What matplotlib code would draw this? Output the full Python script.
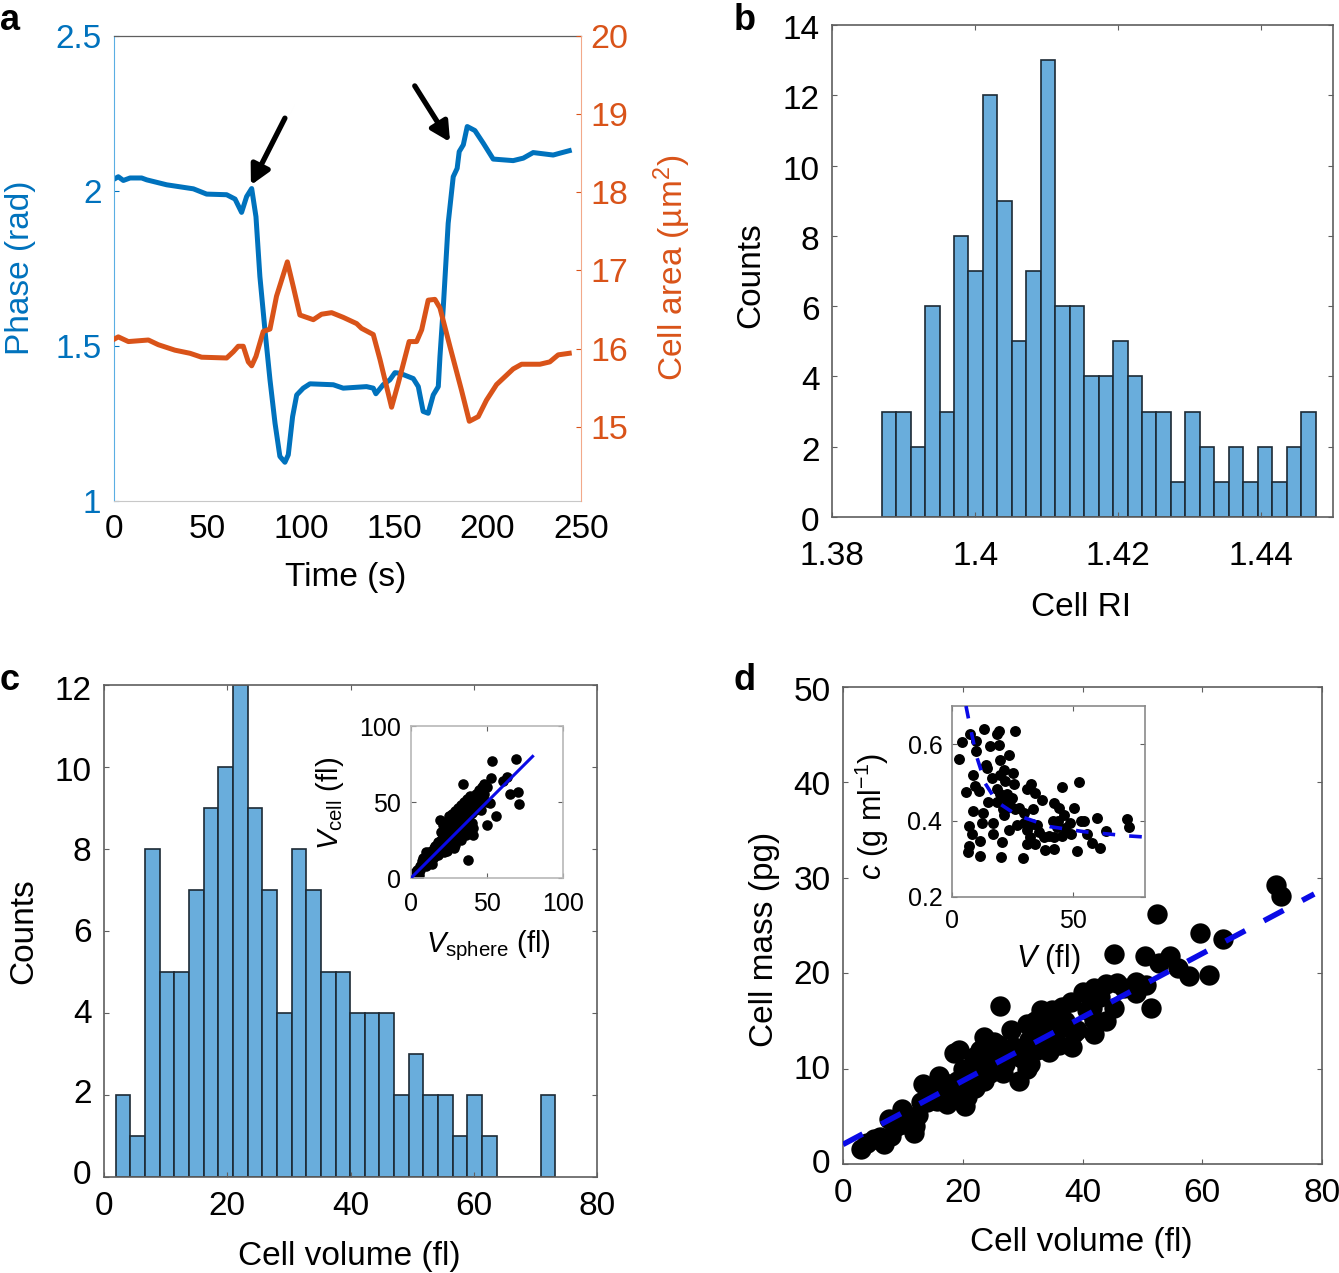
import matplotlib
matplotlib.use("Agg")
import matplotlib.pyplot as plt
from matplotlib.transforms import ScaledTranslation
import numpy as np

plt.rcParams['font.family'] = ['Liberation Sans', 'DejaVu Sans']
plt.rcParams['mathtext.fontset'] = 'custom'
plt.rcParams['mathtext.rm'] = 'Liberation Sans'
plt.rcParams['mathtext.it'] = 'Liberation Sans:italic'
plt.rcParams['mathtext.bf'] = 'Liberation Sans:bold'

W, H = 1339, 1273
fig = plt.figure(figsize=(W/100, H/100), dpi=100)

# ---------- data ----------
phase_t = [0,2.3,5,8.6,14.8,17.5,28.2,42.5,49.6,60.3,64.8,68.3,71,73.7,76,78.1,80.8,83.5,86.2,88.8,91.5,93.3,95.6,97.8,101.3,104.9,117.4,122.7,135.2,138.8,140.2,144.1,147.7,150.4,153.1,160.2,162.9,165.5,168.2,170.9,173.6,174.5,176.3,178.9,181.6,183.7,184.8,187,189.1,193.2,197.7,203,213.7,219.1,224.4,235.1,238.7,243.7]
phase_v = [2.038,2.046,2.034,2.042,2.042,2.036,2.02,2.007,1.99,1.988,1.974,1.931,1.982,2.008,1.917,1.724,1.552,1.391,1.251,1.144,1.125,1.149,1.272,1.342,1.364,1.378,1.375,1.364,1.369,1.364,1.346,1.375,1.391,1.414,1.412,1.395,1.369,1.289,1.283,1.342,1.369,1.466,1.627,1.896,2.046,2.073,2.127,2.149,2.208,2.195,2.154,2.103,2.098,2.106,2.124,2.116,2.122,2.130]
area_t = [0,2.3,7.7,18.4,23.7,32.6,40.7,46.9,60.3,63.9,66.5,69.2,71.9,73.7,76,79.9,83.5,87,92.8,96,99.5,106.7,111.1,116.5,122.7,129.9,132.5,138.8,142.4,148.6,152.2,158,162,164.7,168.2,171.8,174.5,179.8,186,190.2,195,199.4,204.8,213.7,218.2,228,233.3,237.8,243.7]
area_v = [16.12,16.15,16.09,16.11,16.05,15.98,15.94,15.89,15.88,15.96,16.03,16.03,15.83,15.78,15.9,16.22,16.25,16.67,17.11,16.79,16.43,16.37,16.44,16.46,16.4,16.32,16.26,16.18,15.86,15.25,15.56,16.09,16.09,16.24,16.62,16.63,16.52,16.03,15.47,15.07,15.13,15.34,15.54,15.74,15.8,15.8,15.83,15.92,15.94]

ri_left = 1.38694
ri_width = 0.002021
ri_counts = [3,3,2,6,3,8,7,12,9,5,7,13,6,6,4,4,5,4,3,3,1,3,2,1,2,1,2,1,2,3]

vol_left = 1.9
vol_width = 2.378
vol_counts = [2,1,8,5,5,7,9,10,12,9,7,4,8,7,5,5,4,4,4,2,3,2,2,1,2,1,0,0,0,2]

mass_x = [3.0,4,6.9,8.1,7.6,9.8,11.5,12.6,11.8,10.1,13.3,16,14.6,17.4,20.4,20.7,15.7,18.5,19,18.5,19.3,21.8,23.5,25.2,23.5,23.5,25.7,26.3,26.8,29.4,28.5,31.3,34.4,30.7,33,34.9,38,36.6,33.5,35.8,38.3,38.6,42,41.6,45.3,41.9,43.9,45.8,48.9,48.9,50.6,51.4,45.3,52.5,50.4,52.8,54.6,55.9,57.8,61.2,59.7,63.5,72.3,73.1,20.7,22.4,24.6,27.4,29.6,32.4,34.1,31.9,17.4,16.2,22.9,24.6,6.2,5.1,41.9,40.8,30.7,35.8,
          19,21,23,25,27,29,31,33,35,37,39,15,17,14,20,22,28,30,32,34,40,43,44,47,24,26,36,9,10,12,13]
mass_y = [1.55,2.25,2.07,2.95,4.7,5.8,4.9,5.1,3.3,4.2,8.4,9.2,7.7,6.3,6.05,7,6.65,7.7,8.75,11.6,11.9,11.2,13.3,12.8,8.75,10.2,10,16.6,9.5,8.75,12.3,10.5,11.75,14.7,16.1,16.1,17,16.5,13.7,14,12.3,13.7,13.6,16.3,16.3,18.4,18.9,19,19.1,17.9,18.8,16.4,22,26.2,21.8,21.1,21.8,20.5,19.7,19.8,24.2,23.6,29.2,28.1,8.75,10.2,10.9,11.6,11.2,11.9,13.3,14.4,7.3,7.7,11.9,9.5,2.8,2.6,15.1,16.1,10,14.7,
          8,9,11,11,10.5,12,13,12.5,13,15,14,8,8.5,6.5,10,8,14,11,15,15.5,18,17.5,15,18.5,12,12.5,12.5,4,5,4,6.5]
fit_x = [0, 78.7]
fit_y = [2.05, 28.3]

conc_x = [2.9,4,7.5,10,10,13.1,18.6,19.3,26.3,15.8,19.6,23.8,20,14.2,14.7,21.7,25.1,8.6,16.5,22.1,25.6,32.9,31.1,45.4,52.6,5.8,9.6,11,18.6,34.6,37.4,42.2,24.9,15.1,18.6,22.8,27.6,33.6,50.6,44.3,8.6,12.8,46.4,21.4,59.9,72.4,73.5,54.7,53.3,48.9,12.4,17,7.2,27,29.7,23.5,35.3,31.1,43.6,17.2,8.2,49.2,56.1,63.8,45.7,38,42.2,32.5,11.4,20.7,31.1,34.6,58.2,7.2,6.8,11.7,20.4,29.4,38.5,42.2,51.7,61.3,
          20,22,24,26,30,33,36,40,42,44,47,21,20,23]
conc_y = [.560,.605,.626,.609,.583,.639,.627,.634,.634,.594,.598,.573,.559,.545,.537,.532,.524,.519,.512,.504,.495,.495,.482,.487,.500,.476,.491,.477,.484,.471,.454,.445,.458,.449,.449,.432,.432,.430,.432,.432,.426,.419,.414,.414,.406,.403,.384,.399,.399,.395,.393,.393,.387,.388,.393,.375,.388,.375,.384,.364,.365,.366,.366,.373,.360,.358,.358,.358,.346,.345,.339,.340,.342,.334,.319,.307,.304,.303,.323,.325,.321,.327,
          .47,.45,.44,.43,.42,.39,.37,.36,.40,.40,.38,.43,.52,.47]
curve_x = [5.8,6.8,10,13.8,18.6,27,40.8,54.7,72.8,80]
curve_y = [.70,.668,.572,.497,.449,.414,.384,.371,.360,.357]

sph_x = [53.1,68.9,34,63,52.4,60.8,65.2,70.6,71.1,55.7,49.8,37.7,46.1,52,2,4,5,7,8,10,12,14,15,17,18,20,22,19,25,22,24,26,28,27,29,31,33,30,32,35,33,36,38,40,37,41,41,43,45,46,48,44,50,50,15,18,21,23,26,29,31,34,12,10,6,28,25,23,20,35,42,
         10,12,14,16,18,20,22,24,26,28,30,32,34,36,38,40,42,44,21,23,25,27,29,31,33,35,37,39,41,43,20,16,14,9,6,3,24,28,32,34,36,38,40,47,45,48]
sph_y = [77.2,78.3,61.6,66.6,65.5,64,55,56.3,48.4,40.8,34.8,11.8,44.7,49.1,3,5,2,11,13,8,12,9,14,22,15,19,17,38,41,28,33,30,36,24,22,27,25,40,43,46,35,38,44,48,31,28,33,55,58,52,55,50,60,50,20,24,27,31,35,39,33,41,17,14,8,29,20,22,25,36,45,
         17,13,12,15,20,22,24,26,27,31,33,35,37,41,41,43,47,46,35,37,36,42,44,46,48,50,52,54,52,52,30,21,18,11,5,1,18,20,27,30,28,34,36,60,54,62]
ident_x = [0, 80]
ident_y = [0, 80]

# ---------- helpers ----------
def axpx(l, t, r, b, **kw):
    return fig.add_axes([l/W, 1-b/H, (r-l)/W, (b-t)/H], **kw)

def label(x, y, s, size=24, **kw):
    kw.setdefault('ha', 'center'); kw.setdefault('va', 'center')
    fig.text(x/W, 1-y/H, s, fontsize=size, **kw)

def nudge_ylabels(ax, top_dy, bottom_dy):
    """Move the y tick labels down by a few pixels, as in the reference."""
    labels = ax.get_yticklabels()
    n = len(labels) - 1
    for i, t in enumerate(labels):
        dy = bottom_dy + (top_dy - bottom_dy) * i / n
        t.set_transform(t.get_transform() + ScaledTranslation(0, -dy/100, fig.dpi_scale_trans))

GREY = '#5f5f5f'
def box(ax, size=24, xpad=10, ypad=9):
    for s in ax.spines.values():
        s.set_color(GREY); s.set_linewidth(1.2)
    ax.tick_params(direction='in', length=3.5, width=0.8, color=GREY, top=True, right=True,
                   labelsize=size, labelcolor='black')
    ax.tick_params(axis='x', pad=xpad)
    ax.tick_params(axis='y', pad=ypad)

BLUE = '#0072BD'
ORANGE = '#D95319'
HIST = '#69ADDC'
EDGE = '#1c2a35'
LINE_BLUE = '#0a0ae6'

# ---------- a ----------
a = axpx(114, 36, 581, 501)
a.plot(phase_t, phase_v, color=BLUE, lw=3.6)
a.set_xlim(0, 250); a.set_ylim(1, 2.5)
a.set_xticks([0,50,100,150,200,250]); a.set_yticks([1,1.5,2,2.5])
a.set_yticklabels(['1','1.5','2','2.5'])
a.tick_params(axis='y', direction='in', length=3.5, width=0.8, colors=BLUE, labelsize=24, pad=9)
a.tick_params(axis='x', direction='in', length=0, labelsize=24, pad=9)
a.spines['left'].set_color('#5AAEE3')
a.spines['top'].set_color(GREY); a.spines['top'].set_linewidth(0.9)
a.spines['right'].set_visible(False)
a.spines['bottom'].set_color('#c8c8c8')
a2 = a.twinx()
a2.plot(area_t, area_v, color=ORANGE, lw=3.6)
a2.set_ylim(14.05, 20)
a2.set_yticks([15,16,17,18,19,20])
a2.tick_params(axis='y', direction='in', length=3.5, width=0.8, colors=ORANGE, labelsize=24.5, pad=7)
a2.spines['right'].set_color('#F2A98A')
a2.spines['left'].set_visible(False); a2.spines['top'].set_visible(False); a2.spines['bottom'].set_visible(False)
for tip, tail in [((73.3, 2.019), (91.5, 2.235)), ((179.9, 2.158), (161, 2.339))]:
    a.annotate('', xy=tip, xytext=tail,
               arrowprops=dict(arrowstyle='-|>,head_width=0.6,head_length=1.15', color='black', lw=3.8,
                               shrinkA=0, shrinkB=0))
label(346, 578, 'Time (s)')
label(21, 268, 'Phase (rad)', color=BLUE, rotation=90)
label(672, 268, 'Cell area (µm$^{2}$)', color=ORANGE, rotation=90)

# ---------- b ----------
b = axpx(832, 25, 1333, 517)
b.bar([ri_left + i*ri_width for i in range(len(ri_counts))], ri_counts, width=ri_width, align='edge',
      color=HIST, edgecolor=EDGE, linewidth=1.2)
b.set_xlim(1.38, 1.45); b.set_ylim(0, 14)
b.set_xticks([1.38,1.4,1.42,1.44]); b.set_xticklabels(['1.38','1.4','1.42','1.44'])
b.set_yticks(range(0,15,2))
box(b, xpad=17, ypad=9)
nudge_ylabels(b, 2, 2)
label(1081, 607, 'Cell RI')
label(751, 275, 'Counts', rotation=90)

# ---------- c ----------
c = axpx(104, 685, 597, 1177)
c.bar([vol_left + i*vol_width for i in range(len(vol_counts))], vol_counts, width=vol_width, align='edge',
      color=HIST, edgecolor=EDGE, linewidth=1.2)
c.set_xlim(0, 80); c.set_ylim(0, 12)
c.set_xticks([0,20,40,60,80]); c.set_yticks(range(0,13,2))
box(c, xpad=10)
nudge_ylabels(c, 3, -5)
label(349, 1257, 'Cell volume (fl)')
label(24, 931, 'Counts', rotation=90)

ci = axpx(411, 726, 563, 878)
ci.scatter(sph_x, sph_y, s=58, color='black', linewidths=0, zorder=2)
ci.plot(ident_x, ident_y, color=LINE_BLUE, lw=2.2, zorder=3)
ci.set_xlim(0, 100); ci.set_ylim(0, 100)
ci.set_xticks([0,50,100]); ci.set_yticks([0,50,100])
box(ci, size=18, xpad=10, ypad=7)
for s in ci.spines.values(): s.set_color('#b8b8b8')
label(488, 946, '$V_{\\mathrm{sphere}}$ (fl)', size=21)
label(330, 803, '$V_{\\mathrm{cell}}$ (fl)', size=21, rotation=90)

# ---------- d ----------
d = axpx(843, 687, 1322, 1164)
d.scatter(mass_x, mass_y, s=215, color='black', linewidths=0, zorder=2)
d.plot(fit_x, fit_y, color=LINE_BLUE, lw=4, dashes=(4, 3.8), dash_capstyle='butt', zorder=3)
d.set_xlim(0, 80); d.set_ylim(0, 50)
d.set_xticks([0,20,40,60,80]); d.set_yticks(range(0,51,10))
box(d, xpad=10)
nudge_ylabels(d, 2, -3)
label(1081, 1243, 'Cell volume (fl)')
label(764, 939, 'Cell mass (pg)', rotation=90)

di = axpx(952, 706, 1145, 897)
di.scatter(conc_x, conc_y, s=62, color='black', linewidths=0, zorder=2)
di.plot(curve_x, curve_y, color=LINE_BLUE, lw=2.6, dashes=(3.5, 3.9), dash_capstyle='butt', zorder=3)
di.set_xlim(0, 80); di.set_ylim(0.2, 0.7)
di.set_xticks([0,50]); di.set_yticks([0.2,0.4,0.6])
box(di, size=18, xpad=9, ypad=7)
for s in di.spines.values(): s.set_color('#8a8a8a')
label(1048, 959, '$V$ (fl)', size=22)
label(872, 816, '$c$ (g ml$^{-1}$)', size=22, rotation=90)

# ---------- panel letters ----------
for x, y, s in [(10, 21, 'a'), (745, 21, 'b'), (10, 681, 'c'), (745, 681, 'd')]:
    label(x, y, s, size=26, fontweight='bold')

fig.savefig('out.png', dpi=100)
